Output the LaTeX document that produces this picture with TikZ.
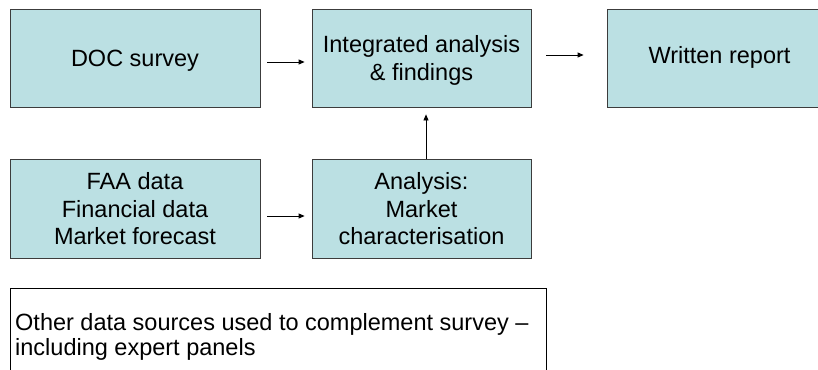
\documentclass[tikz,border=0pt]{standalone}
\usepackage{fontspec}
\setmainfont{Liberation Sans}
\usetikzlibrary{arrows.meta}
\definecolor{boxfill}{RGB}{187,224,227}
\definecolor{boxline}{RGB}{60,60,60}
\tikzset{
  flowbox/.style={draw=boxline, line width=0.8pt, fill=boxfill, align=center,
    inner sep=0pt, text depth=0pt, font=\fontsize{23.5}{27.5}\selectfont},
  flowarrow/.style={draw=black, line width=0.8pt, -{Triangle[length=6pt,width=5pt]}}
}
\begin{document}
\begin{tikzpicture}[x=1pt,y=-1pt]
\useasboundingbox (0,0) rectangle (818,369);
\clip (0,0) rectangle (818,369);
\node (doc) [flowbox, minimum width=250pt, minimum height=98pt] at (135,58) {DOC survey};
\node (integ) [flowbox, minimum width=219pt, minimum height=98pt] at (421.5,58) {Integrated analysis\\\& findings};
\node (report) [flowbox, minimum width=225pt, minimum height=98pt] at (719.5,58) {\raisebox{6pt}{Written report}};
\node (faa) [flowbox, minimum width=250pt, minimum height=99pt] at (135,208.5) {FAA data\\Financial data\\Market forecast};
\node (anal) [flowbox, minimum width=219pt, minimum height=99pt] at (421.5,208.5) {Analysis:\\Market\\characterisation};
\node (otherbox) [draw=black, line width=0.8pt, fill=white, minimum width=536pt, minimum height=120pt, inner sep=0pt, anchor=north west] at (10,288) {};
\node (othertext) [anchor=north west, align=left, inner sep=0pt, font=\fontsize{23.5}{25}\selectfont]
  at ([shift={(5pt,-25pt)}]otherbox.north west) {Other data sources used to complement survey --\\including expert panels};
\draw[flowarrow, shorten <=7pt, shorten >=7pt] ([yshift=-4pt]doc.east) -- ([yshift=-4pt]integ.west);
\draw[flowarrow, shorten <=15pt, shorten >=23pt] ([yshift=3pt]integ.east) -- ([yshift=3pt]report.west);
\draw[flowarrow, shorten <=7pt, shorten >=7pt] ([yshift=-7.5pt]faa.east) -- ([yshift=-7.5pt]anal.west);
\draw[flowarrow, shorten >=7pt] ([xshift=4.5pt]anal.north) -- ([xshift=4.5pt]integ.south);
\end{tikzpicture}
\end{document}
